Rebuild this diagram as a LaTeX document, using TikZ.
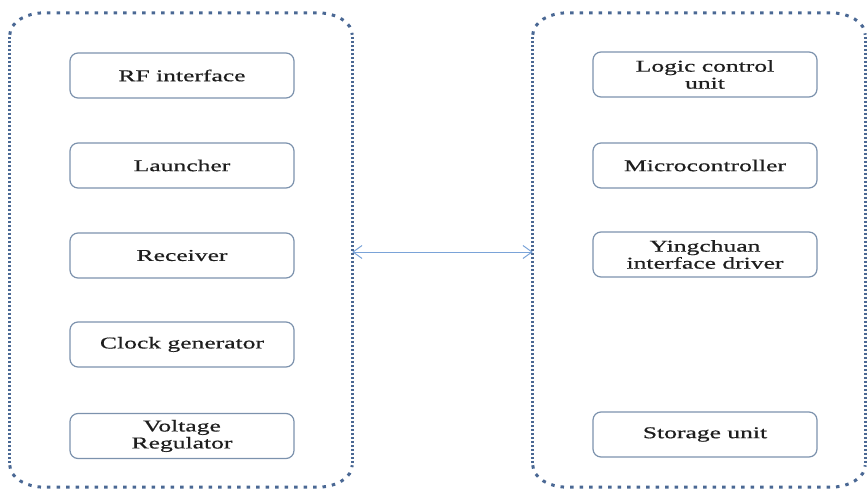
\documentclass[tikz,border=0pt]{standalone}
\usepackage{fontspec}
\setmainfont{Liberation Serif}[FakeStretch=1.55,FakeBold=0.6]
\usetikzlibrary{arrows.meta}
\definecolor{grpc}{HTML}{4A6894}
\definecolor{boxc}{HTML}{7C92AD}
\definecolor{arrc}{HTML}{7AA3D8}
\definecolor{txtc}{HTML}{1E1E1E}
\tikzset{
  unit/.style={draw=boxc, line width=1.2pt, rounded corners=8pt, minimum width=224pt, minimum height=45pt,
    align=center, text=txtc, font=\fontsize{16.5}{17}\selectfont, inner sep=0pt},
  grp/.style={draw=none, minimum width=#1, inner sep=0pt},
  hside/.style={draw=grpc, line width=3pt, dash pattern=on 3.5pt off 6pt},
  vside/.style={draw=grpc, line width=3pt, dash pattern=on 2.5pt off 1.5pt},
  link/.style={draw=arrc, line width=1pt, {Straight Barb[length=9pt,width=13pt]}-{Straight Barb[length=9pt,width=13pt]}}
}
\begin{document}
\begin{tikzpicture}[x=1pt,y=-1pt]
\useasboundingbox (0,0) rectangle (867,489);
% groups
\node[grp=342pt, minimum height=474pt] (left) at (181,250) {};
\node[grp=332pt, minimum height=474pt] (right) at (699,250) {};
% left group outline
\path[hside] ([yshift=-22pt]left.north west) arc[start angle=180,end angle=90,x radius=35pt,y radius=22pt]
  -- ([xshift=-35pt]left.north east) arc[start angle=90,end angle=0,x radius=35pt,y radius=22pt];
\path[hside] ([yshift=22pt]left.south west) arc[start angle=180,end angle=270,x radius=35pt,y radius=22pt]
  -- ([xshift=-35pt]left.south east) arc[start angle=270,end angle=360,x radius=35pt,y radius=22pt];
\path[vside] ([yshift=-24pt]left.north west) -- ([yshift=24pt]left.south west);
\path[vside] ([yshift=-24pt]left.north east) -- ([yshift=24pt]left.south east);
% right group outline
\path[hside] ([yshift=-22pt]right.north west) arc[start angle=180,end angle=90,x radius=35pt,y radius=22pt]
  -- ([xshift=-35pt]right.north east) arc[start angle=90,end angle=0,x radius=35pt,y radius=22pt];
\path[hside] ([yshift=22pt]right.south west) arc[start angle=180,end angle=270,x radius=35pt,y radius=22pt]
  -- ([xshift=-35pt]right.south east) arc[start angle=270,end angle=360,x radius=35pt,y radius=22pt];
\path[vside] ([yshift=-24pt]right.north west) -- ([yshift=24pt]right.south west);
\path[vside] ([yshift=-24pt]right.north east) -- ([yshift=24pt]right.south east);
% left units
\node[unit] (rf) at (182,75.5) {RF interface};
\node[unit] (launch) at (182,165.5) {Launcher};
\node[unit] (recv) at (182,255.5) {Receiver};
\node[unit] (clock) at (182,344.5) {Clock generator};
\node[unit] (volt) at (182,436) {Voltage\\Regulator};
% right units
\node[unit] (logic) at (705,74.5) {Logic control\\unit};
\node[unit] (micro) at (705,165.5) {Microcontroller};
\node[unit] (ying) at (705,254.5) {Yingchuan\\interface driver};
\node[unit] (store) at (705,434.5) {Storage unit};
% link
\coordinate (la) at (left.east |- 0,252);
\coordinate (ra) at (right.west |- 0,252);
\draw[link] (la) -- (ra);
\end{tikzpicture}
\end{document}
